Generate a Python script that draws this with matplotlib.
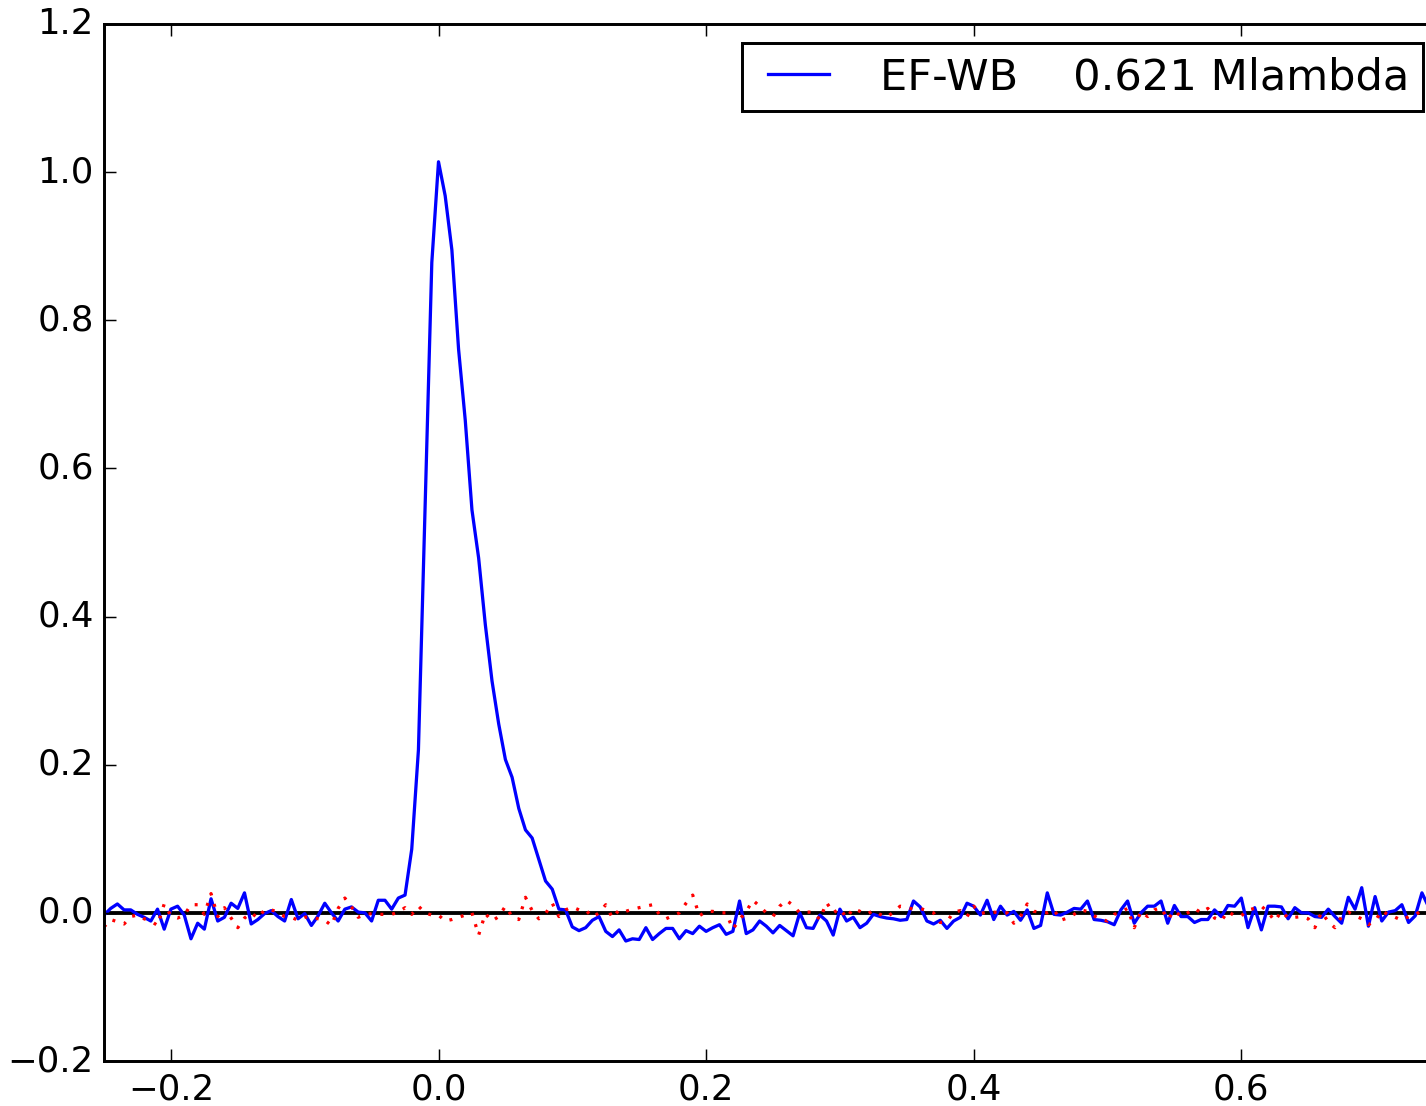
import numpy as np
import matplotlib
matplotlib.use("Agg")
import matplotlib.pyplot as plt

# scale factor: original was a classic 12pt figure rendered larger
S = 2.13

# sample grid (delay), 0.005 steps from -0.25 to 0.75
x = np.round(-0.25 + 0.005 * np.arange(201), 3)

ef_wb = [
    -0.003, 0.006, 0.012, 0.004, 0.004, -0.002, -0.006, -0.011, 0.005, -0.022,
    0.005, 0.009, -0.003, -0.035, -0.014, -0.022, 0.019, -0.011, -0.006, 0.013,
    0.006, 0.027, -0.015, -0.009, -0.001, 0.003, -0.005, -0.011, 0.018, -0.008,
    -0.001, -0.017, -0.004, 0.013, 0.000, -0.011, 0.005, 0.008, 0.001, 0.000,
    -0.011, 0.017, 0.017, 0.005, 0.020, 0.024, 0.086, 0.220, 0.550, 0.878,
    1.014, 0.968, 0.895, 0.761, 0.665, 0.544, 0.479, 0.389, 0.313, 0.255,
    0.207, 0.183, 0.141, 0.112, 0.101, 0.072, 0.043, 0.032, 0.005, 0.004,
    -0.019, -0.024, -0.020, -0.010, -0.005, -0.025, -0.032, -0.023, -0.038, -0.035,
    -0.036, -0.020, -0.036, -0.028, -0.021, -0.021, -0.035, -0.024, -0.028, -0.018,
    -0.025, -0.020, -0.016, -0.029, -0.025, 0.016, -0.028, -0.023, -0.011, -0.018,
    -0.027, -0.017, -0.024, -0.031, 0.000, -0.020, -0.021, -0.003, -0.011, -0.030,
    0.005, -0.011, -0.006, -0.020, -0.014, -0.002, -0.005, -0.007, -0.008, -0.010,
    -0.009, 0.016, 0.008, -0.011, -0.015, -0.010, -0.021, -0.011, -0.006, 0.013,
    0.009, -0.003, 0.017, -0.009, 0.009, -0.003, 0.002, -0.010, 0.004, -0.021,
    -0.017, 0.027, -0.002, -0.003, 0.001, 0.006, 0.005, 0.016, -0.009, -0.010,
    -0.012, -0.016, 0.004, 0.016, -0.014, 0.000, 0.009, 0.009, 0.016, -0.014,
    0.010, -0.005, -0.005, -0.013, -0.009, -0.009, 0.004, -0.005, 0.010, 0.009,
    0.020, -0.020, 0.007, -0.023, 0.009, 0.009, 0.008, -0.008, 0.007, 0.000,
    0.000, -0.005, -0.006, 0.005, -0.005, -0.014, 0.021, 0.005, 0.034, -0.018,
    0.022, -0.011, 0.001, 0.003, 0.011, -0.013, -0.004, 0.027, 0.008, -0.004,
    0.006,
]

residual = [
    -0.019, -0.009, -0.012, -0.015, -0.005, -0.003, -0.008, -0.011, -0.017, 0.012,
    -0.004, -0.007, -0.003, 0.011, 0.011, -0.002, 0.026, -0.005, 0.007, -0.007,
    -0.020, -0.007, 0.000, -0.007, 0.004, 0.004, 0.001, -0.005, -0.006, -0.010,
    -0.006, -0.005, -0.008, -0.010, -0.017, 0.006, 0.020, 0.008, -0.006, -0.002,
    -0.001, -0.002, -0.002, -0.002, 0.001, 0.007, -0.002, 0.009, 0.000, -0.003,
    -0.003, -0.011, -0.009, -0.006, -0.003, 0.000, -0.030, -0.001, -0.011, -0.005,
    0.009, -0.005, -0.009, 0.021, 0.003, -0.008, -0.001, 0.013, -0.005, 0.004,
    0.008, 0.004, 0.004, -0.006, 0.000, 0.011, -0.007, 0.004, 0.002, 0.005,
    0.007, 0.009, 0.011, -0.002, -0.008, -0.004, 0.000, 0.013, 0.024, -0.004,
    0.002, 0.002, 0.000, 0.000, -0.022, -0.009, 0.002, 0.017, 0.009, 0.000,
    -0.005, 0.009, 0.017, 0.010, 0.000, 0.001, 0.001, -0.009, 0.014, 0.000,
    0.006, -0.007, 0.006, 0.002, -0.002, 0.003, -0.002, -0.006, 0.001, 0.009,
    0.007, 0.005, 0.006, 0.003, 0.000, -0.013, -0.012, 0.001, 0.003, -0.005,
    0.009, -0.001, 0.001, 0.001, 0.000, 0.000, -0.014, -0.005, 0.012, 0.002,
    0.001, 0.000, 0.004, -0.010, -0.007, -0.002, 0.004, 0.002, -0.004, -0.009,
    -0.011, -0.002, 0.001, 0.006, -0.020, 0.002, -0.005, 0.004, 0.007, -0.009,
    0.003, -0.005, 0.000, 0.006, 0.000, 0.006, -0.007, -0.011, 0.002, -0.004,
    -0.004, 0.004, 0.006, 0.009, 0.001, -0.011, 0.002, -0.007, -0.006, -0.005,
    -0.008, -0.020, 0.001, -0.012, -0.020, -0.005, 0.001, -0.004, -0.008, -0.016,
    -0.011, 0.003, -0.003, -0.006, -0.010, -0.005, -0.003, 0.004, 0.000, 0.003,
    -0.002,
]

label = "EF-WB    0.621 Mlambda"

plt.style.use("classic")
plt.rcParams.update({
    "figure.facecolor": "white",
    "savefig.facecolor": "white",
    "font.family": "DejaVu Sans",
    "font.size": 12 * S,
    "axes.linewidth": 1 * S,
    "xtick.major.size": 4 * S,
    "ytick.major.size": 4 * S,
    "xtick.major.width": 0.5 * S,
    "ytick.major.width": 0.5 * S,
    "xtick.major.pad": 4 * S,
    "ytick.major.pad": 3.5 * S,
    "lines.scale_dashes": False,
})

fig = plt.figure(figsize=(14.26, 11.06), dpi=100)
ax = fig.add_axes([104 / 1426, 45 / 1106, 1338 / 1426, 1037 / 1106])

ax.axhline(0, color="k", lw=1.3 * S)
ax.plot(x, ef_wb, color="b", lw=1.1 * S, label=label)
ax.plot(x, residual, color="r", lw=1.1 * S, linestyle=":", dashes=(1 * S, 3 * S))

ax.set_xlim(-0.25, 0.75)
ax.set_ylim(-0.2, 1.2)
ax.set_xticks([-0.2, 0.0, 0.2, 0.4, 0.6])
ax.set_yticks(np.arange(-0.2, 1.21, 0.2))

leg = ax.legend(loc="upper right", fontsize=14.6 * S, numpoints=2,
                borderpad=0.3, borderaxespad=0.45, handletextpad=0.9)
leg.get_frame().set_linewidth(1 * S)

fig.savefig("out.png", dpi=100)
